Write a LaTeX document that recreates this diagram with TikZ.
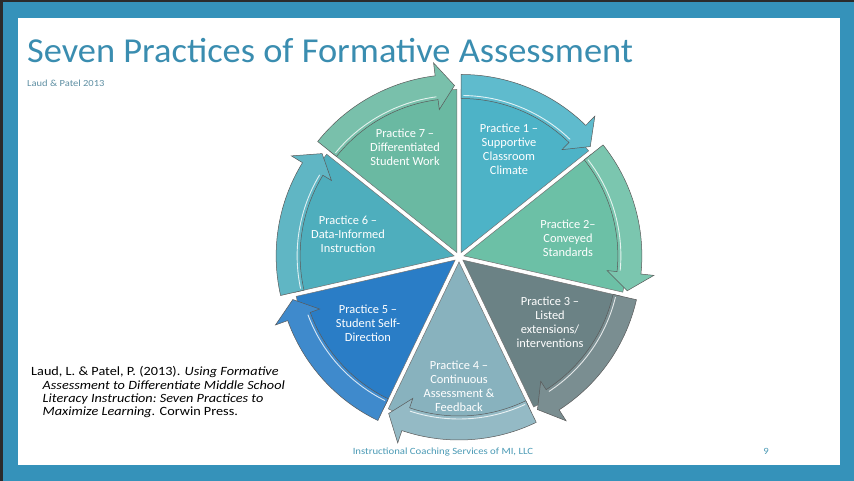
\documentclass[tikz,border=0pt]{standalone}
\usepackage{fontspec}
\setmainfont{Carlito}
\newfontfamily\widefont{Carlito}[FakeStretch=1.13]
\newfontfamily\titlefont{Carlito}[FakeStretch=1.04]
\definecolor{frame}{HTML}{2B2B2B}
\definecolor{slideblue}{HTML}{3592BA}
\definecolor{titlecol}{HTML}{3A8DB0}
\definecolor{subcol}{HTML}{5E8FA3}
\definecolor{footcol}{HTML}{4A9AB5}
\definecolor{cA}{HTML}{4DB3C7}
\definecolor{cB}{HTML}{6CC0A6}
\definecolor{cC}{HTML}{6B8285}
\definecolor{cD}{HTML}{88B2BE}
\definecolor{cE}{HTML}{2A7DC6}
\definecolor{cF}{HTML}{4EAEBD}
\definecolor{cG}{HTML}{6AB9A2}
\begin{document}
\begin{tikzpicture}[x=1pt,y=1pt]
\tikzset{
  ptext/.style={text=white, align=center, font=\fontsize{12.4}{14}\selectfont, inner sep=0pt},
  cite/.style={anchor=base west, inner sep=0pt, font=\widefont\fontsize{12.6}{14}\selectfont, text=black},
}
\useasboundingbox (0,0) rectangle (854,481);
\fill[frame] (0,0) rectangle (854,481);
\fill[slideblue] (3,0) rectangle (854,478.5);
\fill[white] (18,16) rectangle (840,463);
\node[anchor=base west, inner sep=0pt, text=titlecol, font=\titlefont\fontsize{35}{40}\selectfont] (title) at (27,418) {Seven Practices of Formative Assessment};
\node[anchor=base west, inner sep=0pt, text=subcol, font=\widefont\fontsize{9.3}{10}\selectfont] (sub) at (27,394) {Laud \& Patel 2013};
\foreach \s/\col in {90/cA, 38.5714/cB, -12.8571/cC, -64.2857/cD, -115.7143/cE, -167.1429/cF, 141.4286/cG} {
  \pgfmathsetmacro\e{\s-51.4286}
  \pgfmathsetmacro\m{\s-25.7143}
  \pgfmathsetmacro\b{\e+7}
  \pgfmathsetmacro\t{\e+0.8}
  \pgfmathsetmacro\hs{\s-0.8}
  \pgfmathsetmacro\hb{\b+0.5}
  \begin{scope}[shift={(459,224)}, shift={(\m:5pt)}]
    \filldraw[fill=\col, draw=black!55, line width=.5pt] (0,0) -- (\s:163pt) arc[start angle=\s, end angle=\e, radius=163pt] -- cycle;
    \filldraw[fill=\col!90!white, draw=black!65, line width=.5pt] (\s:154pt) arc[start angle=\s, end angle=\b, radius=154pt] -- (\b:144pt) -- (\t:167pt) -- (\b:191pt) -- (\b:178pt) arc[start angle=\b, end angle=\s, radius=178pt] -- cycle;
    \draw[white, opacity=.8, line width=.9pt] (\hs:157pt) arc[start angle=\hs, end angle=\hb, radius=157pt];
  \end{scope}
}
\node[ptext] (p1) at (509,332) {Practice 1 –\\Supportive\\Classroom\\Climate};
\node[ptext] (p2) at (568,243) {Practice 2–\\Conveyed\\Standards};
\node[ptext] (p3) at (550,159) {Practice 3 –\\Listed\\extensions/\\interventions};
\node[ptext] (p4) at (459,95) {Practice 4 –\\Continuous\\Assessment \&\\Feedback};
\node[ptext] (p5) at (368,158) {Practice 5 –\\Student Self-\\Direction};
\node[ptext] (p6) at (348,247) {Practice 6 –\\Data-Informed\\Instruction};
\node[ptext] (p7) at (405,334) {Practice 7 –\\Differentiated\\Student Work};
\node[cite] (c1) at (31,105.3) {Laud, L. \& Patel, P. (2013). \textit{Using Formative}};
\node[cite] (c2) at (42.5,91.8) {\textit{Assessment\ to Differentiate Middle School}};
\node[cite] (c3) at (42.5,78.3) {\textit{Literacy Instruction:\ Seven Practices to}};
\node[cite] (c4) at (42.5,65) {\textit{Maximize Learning.} Corwin Press.};
\node[anchor=base, inner sep=0pt, text=footcol, font=\widefont\fontsize{9.5}{11}\selectfont] (foot) at (443,26) {Instructional Coaching Services of MI, LLC};
\node[anchor=base, inner sep=0pt, text=footcol, font=\widefont\fontsize{9.5}{11}\selectfont] (pg) at (766,26) {9};
\end{tikzpicture}
\end{document}
